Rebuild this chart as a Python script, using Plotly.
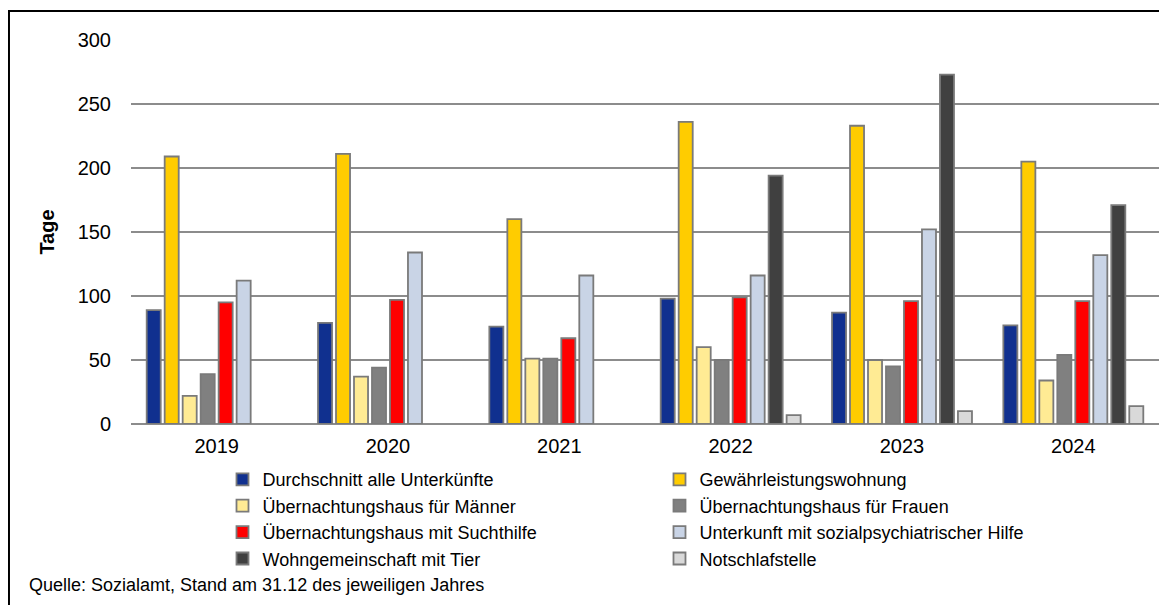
import plotly.graph_objects as go

years = ["2019", "2020", "2021", "2022", "2023", "2024"]

durchschnitt = [89, 79, 76, 98, 87, 77]
gewaehrleistung = [209, 211, 160, 236, 233, 205]
maenner = [22, 37, 51, 60, 50, 34]
frauen = [39, 44, 51, 50, 45, 54]
suchthilfe = [95, 97, 67, 99, 96, 96]
sozialpsych = [112, 134, 116, 116, 152, 132]
tier = [None, None, None, 194, 273, 171]
notschlaf = [None, None, None, 7, 10, 14]

series = [
    ("Durchschnitt alle Unterkünfte", durchschnitt, "#10308f"),
    ("Gewährleistungswohnung", gewaehrleistung, "#ffcc00"),
    ("Übernachtungshaus für Männer", maenner, "#ffeb94"),
    ("Übernachtungshaus für Frauen", frauen, "#808080"),
    ("Übernachtungshaus mit Suchthilfe", suchthilfe, "#ff0000"),
    ("Unterkunft mit sozialpsychiatrischer Hilfe", sozialpsych, "#c9d4e6"),
    ("Wohngemeinschaft mit Tier", tier, "#404040"),
    ("Notschlafstelle", notschlaf, "#d9d9d9"),
]

FONT = "Liberation Sans, Arial, sans-serif"

fig = go.Figure()
for name, vals, color in series:
    fig.add_trace(go.Bar(
        x=years, y=vals, name=name,
        marker=dict(color=color, line=dict(color="#7a7a7a", width=1.8)),
    ))

# page body adds an 8px offset, so the figure is sized to fit the window
fig.update_layout(
    width=1159, height=597,
    margin=dict(l=123, r=8, t=32, b=181),
    paper_bgcolor="white", plot_bgcolor="white",
    font=dict(family=FONT, size=18, color="black"),
    barmode="group", bargap=0.16, bargroupgap=0.22,
    showlegend=True,
    legend=dict(
        orientation="h", x=0.089, y=-0.0966, xanchor="left", yanchor="top",
        entrywidth=392, entrywidthmode="pixels",
        font=dict(size=18), itemwidth=30, tracegroupgap=0,
        bgcolor="rgba(0,0,0,0)",
    ),
    xaxis=dict(
        showgrid=False, ticks="", tickfont=dict(size=20),
        showline=False, ticklabelstandoff=8,
    ),
    yaxis=dict(
        range=[0, 300], dtick=50, showgrid=True, gridcolor="#8c8c8c", gridwidth=1.5,
        zeroline=True, zerolinecolor="#8c8c8c", zerolinewidth=2,
        tickfont=dict(size=20), ticklabelstandoff=19,
        title=dict(text="<b>Tage</b>", font=dict(size=20), standoff=17),
    ),
    shapes=[dict(
        type="rect", xref="paper", yref="paper",
        x0=-0.1187, x1=1.02, y0=-0.5, y1=1.0755,
        line=dict(color="black", width=2), fillcolor="rgba(0,0,0,0)", layer="below",
    )],
    annotations=[dict(
        text="Quelle: Sozialamt, Stand am 31.12 des jeweiligen Jahres",
        xref="paper", yref="paper", x=-0.1007, y=-0.419, xanchor="left", yanchor="middle",
        showarrow=False, font=dict(size=18),
    )],
)

fig.write_html("out.html")
